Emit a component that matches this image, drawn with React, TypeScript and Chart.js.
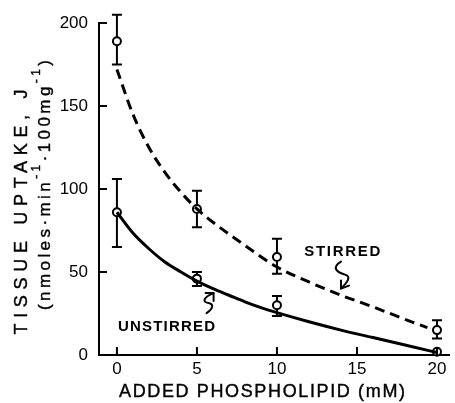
import React, { useEffect, useRef } from "react";
import { Chart, registerables } from "chart.js";
Chart.register(...registerables);

// ---- data ----
const doses = [0, 5, 10, 20];
const stirredMean = [189, 88, 59, 15];
const stirredHigh = [205, 99, 70, 21];
const stirredLow = [175, 77, 49, 10];
const unstirredMean = [86, 46, 30, 2];
const unstirredHigh: (number | null)[] = [106, 50, 35.5, null];
const unstirredLow: (number | null)[] = [65, 41.5, 23.5, null];

const stirredCurveX = [0, 1, 2, 3, 4, 5, 6, 8, 10, 12, 14, 16, 18, 19.4];
const stirredCurveY = [172, 145, 125, 110, 98, 88, 80, 66, 53, 44, 36, 29, 21.5, 16.5];
const unstirredCurveX = [0, 1, 2, 3, 4, 5, 6, 7, 8, 9, 10, 12, 14, 16, 18, 20];
const unstirredCurveY = [86, 73.5, 64, 56, 50, 44.5, 40, 36, 32, 28.5, 25.5, 20, 15, 10.5, 6, 1.5];

const xTicks = [0, 5, 10, 15, 20];
const yTicks = [0, 50, 100, 150, 200];

const xTitle = "ADDED PHOSPHOLIPID (mM)";
const yTitle1 = "TISSUE UPTAKE, J";
const yTitle2 = [
  { t: "(nmoles·min", sup: false },
  { t: "-1", sup: true },
  { t: "·100mg", sup: false },
  { t: "-1", sup: true },
  { t: ")", sup: false },
];
const stirredLabel = "STIRRED";
const unstirredLabel = "UNSTIRRED";
// annotation anchors in data coordinates
const stirredLabelAt = { x: 14.08, y: 62 };
const stirredTipAt = { x: 14.0, y: 40 };
const unstirredLabelAt = { x: 3.1, y: 17 };
const unstirredTipAt = { x: 6.04, y: 37.3 };

const FONT = '"Liberation Sans", Arial, Helvetica, sans-serif';
const INK = "#000";

function drawSpaced(
  ctx: CanvasRenderingContext2D,
  text: string,
  cx: number,
  cy: number,
  width: number,
  font: string,
  heavy = 0.4
) {
  ctx.font = font;
  (ctx as any).letterSpacing = "0px";
  const w = ctx.measureText(text).width;
  const n = text.length;
  const sp = n > 1 ? (width - w) / (n - 1) : 0;
  (ctx as any).letterSpacing = sp + "px";
  ctx.textAlign = "left";
  ctx.textBaseline = "middle";
  ctx.fillText(text, cx - width / 2, cy);
  if (heavy > 0) {
    ctx.lineWidth = heavy;
    ctx.strokeText(text, cx - width / 2, cy);
  }
  (ctx as any).letterSpacing = "0px";
}

const decorPlugin = {
  id: "decor",
  beforeDatasetsDraw(chart: any) {
    const ctx: CanvasRenderingContext2D = chart.ctx;
    const xs = chart.scales.x;
    const ys = chart.scales.y;
    ctx.save();
    ctx.strokeStyle = INK;
    ctx.lineWidth = 2;
    const bars = (hi: (number | null)[], lo: (number | null)[]) => {
      doses.forEach((d, i) => {
        const h = hi[i];
        const l = lo[i];
        if (h == null || l == null) return;
        const px = xs.getPixelForValue(d);
        const py1 = ys.getPixelForValue(h);
        const py2 = ys.getPixelForValue(l);
        ctx.beginPath();
        ctx.moveTo(px, py1);
        ctx.lineTo(px, py2);
        ctx.moveTo(px - 5, py1);
        ctx.lineTo(px + 5, py1);
        ctx.moveTo(px - 5, py2);
        ctx.lineTo(px + 5, py2);
        ctx.stroke();
      });
    };
    bars(stirredHigh, stirredLow);
    bars(unstirredHigh, unstirredLow);
    ctx.restore();
  },
  afterDraw(chart: any) {
    const ctx: CanvasRenderingContext2D = chart.ctx;
    const xs = chart.scales.x;
    const ys = chart.scales.y;
    const area = chart.chartArea;
    ctx.save();
    ctx.strokeStyle = INK;
    ctx.fillStyle = INK;
    ctx.lineWidth = 2;
    // inward tick marks
    ctx.beginPath();
    yTicks.forEach((v) => {
      const py = ys.getPixelForValue(v);
      ctx.moveTo(area.left, py);
      ctx.lineTo(area.left + 8, py);
    });
    xTicks.forEach((v) => {
      const px = xs.getPixelForValue(v);
      ctx.moveTo(px, area.bottom);
      ctx.lineTo(px, area.bottom - 8);
    });
    ctx.stroke();

    // x title
    drawSpaced(ctx, xTitle, 262, 392, 286, `18px ${FONT}`);

    // y title line 1
    ctx.save();
    ctx.translate(22, 212);
    ctx.rotate(-Math.PI / 2);
    drawSpaced(ctx, yTitle1, 0, 0, 245, `18px ${FONT}`);
    ctx.restore();

    // y title line 2 with superscripts
    ctx.save();
    ctx.translate(45, 185);
    ctx.rotate(-Math.PI / 2);
    const mainFont = `17px ${FONT}`;
    const supFont = `12px ${FONT}`;
    let base = 0;
    let chars = 0;
    yTitle2.forEach((s) => {
      ctx.font = s.sup ? supFont : mainFont;
      base += ctx.measureText(s.t).width;
      chars += s.t.length;
    });
    const target = 250;
    const sp = Math.max(0, (target - base) / (chars - 1));
    (ctx as any).letterSpacing = sp + "px";
    let cur = -target / 2;
    ctx.textAlign = "left";
    ctx.textBaseline = "middle";
    ctx.lineWidth = 0.4;
    yTitle2.forEach((s) => {
      ctx.font = s.sup ? supFont : mainFont;
      const yy = s.sup ? -8 : 0;
      ctx.fillText(s.t, cur, yy);
      ctx.strokeText(s.t, cur, yy);
      cur += ctx.measureText(s.t).width;
    });
    (ctx as any).letterSpacing = "0px";
    ctx.restore();

    // annotations
    drawSpaced(
      ctx,
      stirredLabel,
      xs.getPixelForValue(stirredLabelAt.x),
      ys.getPixelForValue(stirredLabelAt.y),
      76,
      `bold 15px ${FONT}`,
      0
    );
    drawSpaced(
      ctx,
      unstirredLabel,
      xs.getPixelForValue(unstirredLabelAt.x),
      ys.getPixelForValue(unstirredLabelAt.y),
      97,
      `bold 15px ${FONT}`,
      0
    );

    ctx.lineWidth = 2;
    ctx.lineCap = "round";
    ctx.lineJoin = "round";
    // stirred squiggle
    {
      const tx = xs.getPixelForValue(stirredTipAt.x);
      const ty = ys.getPixelForValue(stirredTipAt.y);
      ctx.beginPath();
      ctx.moveTo(tx, ty - 27);
      ctx.bezierCurveTo(tx - 10, ty - 21, tx - 4, ty - 16, tx + 4, ty - 14);
      ctx.bezierCurveTo(tx + 11, ty - 12, tx + 6, ty - 6, tx, ty);
      ctx.stroke();
      ctx.beginPath();
      ctx.moveTo(tx, ty - 8);
      ctx.lineTo(tx, ty);
      ctx.lineTo(tx + 8, ty - 3);
      ctx.stroke();
    }
    // unstirred squiggle
    {
      const tx = xs.getPixelForValue(unstirredTipAt.x);
      const ty = ys.getPixelForValue(unstirredTipAt.y);
      ctx.beginPath();
      ctx.moveTo(tx - 7, ty + 20);
      ctx.bezierCurveTo(tx - 1, ty + 16, tx + 1, ty + 11, tx - 5, ty + 10);
      ctx.bezierCurveTo(tx - 12, ty + 9, tx - 10, ty + 4, tx, ty);
      ctx.stroke();
      ctx.beginPath();
      ctx.moveTo(tx - 8, ty);
      ctx.lineTo(tx, ty);
      ctx.lineTo(tx, ty + 8);
      ctx.stroke();
    }
    ctx.restore();
  },
};

export default function App() {
  const ref = useRef<HTMLCanvasElement>(null);
  useEffect(() => {
    const canvas = ref.current!;
    const pts = (xs: number[], ys: number[]) => xs.map((x, i) => ({ x, y: ys[i] }));
    const chart = new Chart(canvas, {
      type: "scatter",
      data: {
        datasets: [
          {
            label: "stirred curve",
            data: pts(stirredCurveX, stirredCurveY),
            showLine: true,
            borderColor: INK,
            borderWidth: 3,
            borderDash: [10, 6],
            pointRadius: 0,
            cubicInterpolationMode: "monotone",
            clip: false,
          } as any,
          {
            label: "unstirred curve",
            data: pts(unstirredCurveX, unstirredCurveY),
            showLine: true,
            borderColor: INK,
            borderWidth: 3,
            pointRadius: 0,
            cubicInterpolationMode: "monotone",
            clip: false,
          } as any,
          {
            label: "stirred",
            data: pts(doses, stirredMean),
            pointRadius: 4,
            pointBorderWidth: 2,
            pointBorderColor: INK,
            pointBackgroundColor: "#fff",
            clip: false,
          } as any,
          {
            label: "unstirred",
            data: pts(doses, unstirredMean),
            pointRadius: 4,
            pointBorderWidth: 2,
            pointBorderColor: INK,
            pointBackgroundColor: "#fff",
            clip: false,
          } as any,
        ],
      },
      options: {
        animation: false,
        responsive: false,
        layout: { padding: { top: 23, right: 5, left: 0, bottom: 0 } },
        plugins: { legend: { display: false }, tooltip: { enabled: false } },
        scales: {
          x: {
            type: "linear",
            min: -1.12,
            max: 20.75,
            afterBuildTicks: (s: any) => {
              s.ticks = xTicks.map((v) => ({ value: v }));
            },
            afterFit: (s: any) => {
              s.height = 48;
            },
            ticks: {
              font: { family: FONT, size: 17 },
              color: INK,
              padding: 4,
              maxRotation: 0,
              autoSkip: false,
            },
            grid: { display: false, drawTicks: false },
            border: { display: true, color: INK, width: 2 },
          },
          y: {
            type: "linear",
            min: 0,
            max: 200,
            afterBuildTicks: (s: any) => {
              s.ticks = yTicks.map((v) => ({ value: v }));
            },
            afterFit: (s: any) => {
              s.width = 99;
            },
            ticks: {
              font: { family: FONT, size: 17 },
              color: INK,
              padding: 11,
              autoSkip: false,
            },
            grid: { display: false, drawTicks: false },
            border: { display: true, color: INK, width: 2 },
          },
        },
      } as any,
      plugins: [decorPlugin],
    });
    return () => chart.destroy();
  }, []);
  return (
    <div
      style={{
        position: "absolute",
        left: 0,
        top: 0,
        width: 455,
        height: 403,
        background: "#fff",
      }}
    >
      <canvas ref={ref} width={455} height={403} style={{ display: "block" }} />
    </div>
  );
}
